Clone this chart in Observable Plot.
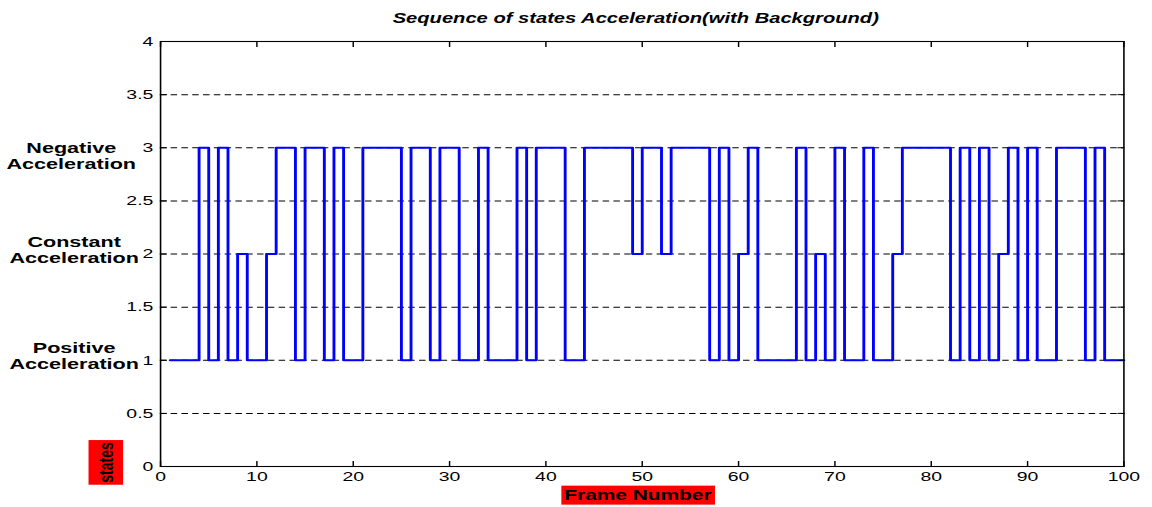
<!DOCTYPE html>
<html>
<head>
<meta charset="utf-8">
<script src="https://cdn.jsdelivr.net/npm/d3@7"></script>
<script src="https://cdn.jsdelivr.net/npm/@observablehq/plot@0.6"></script>
<style>
  html, body { margin: 0; padding: 0; background: #fff; overflow: hidden; }
  #chart svg { display: block; }
</style>
</head>
<body>
<div id="chart"></div>
<script>
// State of each frame, frames 1..100 (1 = positive, 2 = constant, 3 = negative acceleration)
const states = [
  1, 1, 1, 3, 1, 3, 1, 2, 1, 1,
  2, 3, 3, 1, 3, 3, 1, 3, 1, 1,
  3, 3, 3, 3, 1, 3, 3, 1, 3, 3,
  1, 1, 3, 1, 1, 1, 3, 1, 3, 3,
  3, 1, 1, 3, 3, 3, 3, 3, 2, 3,
  3, 2, 3, 3, 3, 3, 1, 3, 1, 2,
  3, 1, 1, 1, 1, 3, 1, 2, 1, 3,
  1, 1, 3, 1, 1, 2, 3, 3, 3, 3,
  3, 1, 3, 1, 3, 1, 2, 3, 1, 3,
  1, 1, 3, 3, 3, 1, 3, 1, 1, 1
];

const xTicks = [0, 10, 20, 30, 40, 50, 60, 70, 80, 90, 100];
const yTicks = [0, 0.5, 1, 1.5, 2, 2.5, 3, 3.5, 4];
const gridLevels = [0.5, 1, 1.5, 2, 2.5, 3, 3.5];

const stateLevels = [1, 2, 3];
const stateNames = ["Positive\nAcceleration", "Constant\nAcceleration", "Negative\nAcceleration"];

const titleText = "Sequence of states Acceleration(with Background)";
const xLabel = "Frame Number";
const yLabel = "states";

const stateRows = stateLevels.map((level, i) => ({level, name: stateNames[i]}));

// The figure is laid out on an 800-unit-wide canvas, then stretched to the page width.
const W = 800, H = 507;
const font = "'Liberation Sans', Arial, Helvetica, sans-serif";

const chart = Plot.plot({
  width: W,
  height: H,
  marginLeft: 111,
  marginRight: 20,
  marginTop: 41,
  marginBottom: 41,
  style: {fontFamily: font, fontSize: "13.5px", background: "#fff", color: "#000", overflow: "visible"},
  x: {domain: [0, 100], label: null},
  y: {domain: [0, 4], label: null},
  marks: [
    Plot.gridY(gridLevels, {stroke: "#000", strokeOpacity: 1, strokeWidth: 1, strokeDasharray: "4.5,3"}),
    Plot.line(states, {x: (d, i) => i + 1, y: d => d, curve: "step-after", stroke: "#0000ff", strokeWidth: 2}),
    Plot.frame({stroke: "#000", strokeWidth: 1.1}),
    Plot.axisX(xTicks, {anchor: "bottom", tickSize: -5, tickPadding: 9.5, label: null, tickFormat: d => String(d)}),
    Plot.axisX(xTicks, {anchor: "top", tickSize: -5, label: null, tickFormat: () => ""}),
    Plot.axisY(yTicks, {anchor: "left", tickSize: -5, tickPadding: 10, label: null, tickFormat: d => String(d)}),
    Plot.axisY(yTicks, {anchor: "right", tickSize: -5, label: null, tickFormat: () => ""}),
    // state names beside the levels
    Plot.text(stateRows.filter(d => d.level < 3), {
      y: "level", text: "name", frameAnchor: "left", dx: -60, dy: -4.5,
      textAnchor: "middle", lineAnchor: "middle", lineHeight: 1.1,
      fontWeight: "bold", fontSize: 15
    }),
    Plot.text(stateRows.filter(d => d.level === 3), {
      y: "level", text: "name", frameAnchor: "left", dx: -62, dy: 8,
      textAnchor: "middle", lineAnchor: "middle", lineHeight: 1.1,
      fontWeight: "bold", fontSize: 15
    }),
    // title
    Plot.text([titleText], {
      frameAnchor: "top", dx: -4.5, dy: -23, lineAnchor: "middle",
      fontSize: 14, fontWeight: "bold", fontStyle: "italic"
    }),
    // axis labels (drawn on red boxes)
    Plot.text([xLabel], {
      frameAnchor: "bottom", dx: -3, dy: 29, lineAnchor: "middle",
      fontSize: 14.5, fontWeight: "bold"
    }),
    Plot.text([yLabel], {
      frameAnchor: "bottom-left", dx: -37.5, dy: -4, rotate: -90,
      textAnchor: "middle", lineAnchor: "middle",
      fontSize: 14, fontWeight: "bold"
    })
  ]
});

document.getElementById("chart").append(chart);

// Red background boxes behind the axis labels
function boxBehind(label, padX, padY) {
  Array.from(chart.querySelectorAll("text"))
    .filter(t => t.textContent === label)
    .forEach(t => {
      const b = t.getBBox();
      const r = document.createElementNS("http://www.w3.org/2000/svg", "rect");
      r.setAttribute("x", b.x - padX);
      r.setAttribute("y", b.y - padY);
      r.setAttribute("width", b.width + 2 * padX);
      r.setAttribute("height", b.height + 2 * padY);
      r.setAttribute("fill", "#ff0000");
      r.setAttribute("stroke", "none");
      const tr = t.getAttribute("transform");
      if (tr) r.setAttribute("transform", tr);
      t.parentNode.insertBefore(r, t);
    });
}
boxBehind(xLabel, 2, 1.5);
boxBehind(yLabel, 2, 4);

// Stretch the drawing horizontally to the full page width
chart.setAttribute("preserveAspectRatio", "none");
chart.setAttribute("width", 1152);
chart.setAttribute("height", 507);
chart.style.maxWidth = "none";
chart.style.width = "1152px";
chart.style.height = "507px";
</script>
</body>
</html>
